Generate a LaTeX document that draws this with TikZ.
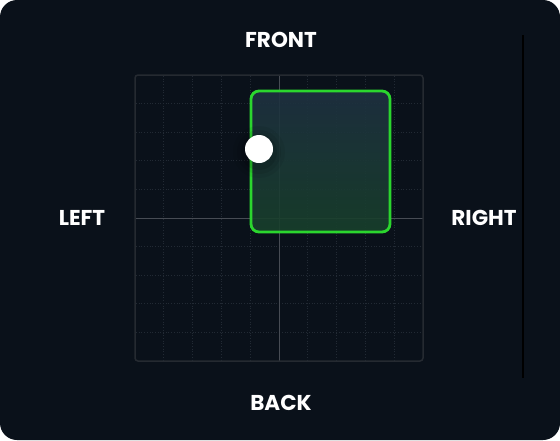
\documentclass[tikz,border=0pt]{standalone}
\usepackage{fontspec}
\setmainfont{Poppins}
\usetikzlibrary{fadings}
\definecolor{bgdark}{HTML}{0A111A}
\definecolor{gridc}{HTML}{222A34}
\definecolor{axisc}{HTML}{474C54}
\definecolor{framec}{HTML}{252A31}
\definecolor{greenc}{HTML}{2BD62E}
\definecolor{gtop}{HTML}{1E3141}
\definecolor{gbot}{HTML}{18402B}
\tikzset{
  lbl/.style={text=white, font=\fontsize{21.5}{21.5}\selectfont\bfseries, inner sep=0pt, anchor=center},
  zone/.style={draw=greenc, line width=2.8pt, rounded corners=8pt, top color=gtop, bottom color=gbot, minimum width=139pt, minimum height=141pt, inner sep=0pt},
  knob/.style={circle, fill=white, minimum size=28pt, inner sep=0pt},
  gridline/.style={gridc, line width=0.7pt, dotted},
  axisline/.style={axisc, line width=1pt},
}
\begin{document}
\begin{tikzpicture}[x=1pt,y=-1pt]
\useasboundingbox (0,0) rectangle (560,440);
\fill[white] (0,0) rectangle (560,440);
\fill[bgdark, rounded corners=17pt] (0,0) rectangle (560,440);
% grid
\foreach \i in {1,...,9} {
  \draw[gridline] ({135+28.8*\i},76) -- ({135+28.8*\i},360);
  \draw[gridline] (136,{75+28.6*\i}) -- (422,{75+28.6*\i});
}
\coordinate (ax1) at (279,75);
\coordinate (ax2) at (279,361);
\coordinate (ay1) at (135,218);
\coordinate (ay2) at (423,218);
\draw[axisline] (ax1) -- (ax2);
\draw[axisline] (ay1) -- (ay2);
\draw[framec, line width=1.5pt, rounded corners=3pt] (135,75) rectangle (423,361);
% zone
\node[zone, fill opacity=0.9] (zone) at (320.5,161.5) {};
% knob shadow
\foreach \r/\o in {26/0.06,22/0.08,18/0.1} {
  \fill[black, opacity=\o] (259,152) circle (\r pt);
}
\node[knob] (knob) at (259,149) {};
% divider line
\coordinate (d1) at (523,35);
\coordinate (d2) at (523,378);
\draw[black, line width=1.3pt] (d1) -- (d2);
% labels
\node[lbl] (front) at (281,40) {FRONT};
\node[lbl] (left) at (82,218) {LEFT};
\node[lbl] (right) at (484,218) {RIGHT};
\node[lbl] (back) at (281,403) {BACK};
\end{tikzpicture}
\end{document}
